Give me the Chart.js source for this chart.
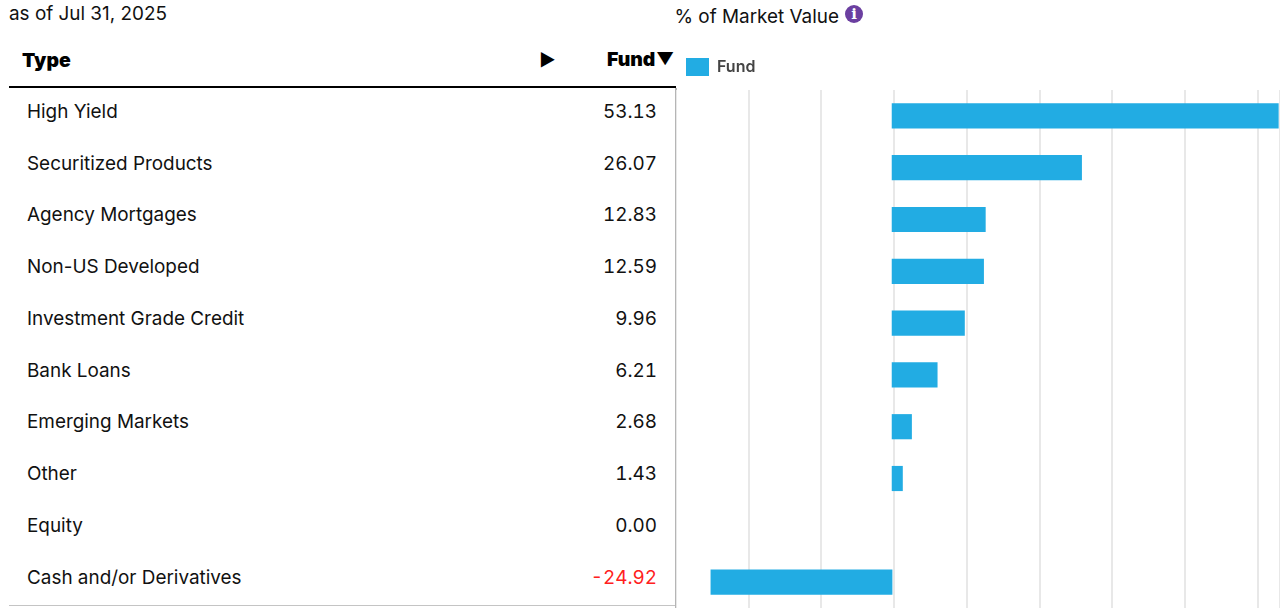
<!DOCTYPE html>
<html>
<head>
<meta charset="utf-8">
<script src="https://cdn.jsdelivr.net/npm/chart.js@4"></script>
<style>
  html, body { margin: 0; padding: 0; background: #fff; overflow: hidden; }
  body { width: 1280px; height: 608px; position: relative; font-family: Inter, sans-serif; color: #111; }
  .txt { position: absolute; white-space: nowrap; line-height: 26px; height: 26px; font-size: 18.9px; }
  .num { text-align: right; right: 623px; font-variant-numeric: tabular-nums; letter-spacing: 0; }
  .head { font-weight: 900; font-size: 19.4px; color: #000; }
  .arrow { font-size: 17px; }
  #rule { position: absolute; left: 9px; top: 86px; width: 667px; height: 2px; background: #000; }
  #side { position: absolute; left: 675px; top: 88px; width: 2px; height: 520px; background: #b5b5b5; }
  #foot { position: absolute; left: 9px; top: 605px; width: 667px; height: 1px; background: #c4c4c4; }
  #info { position: absolute; left: 845px; top: 5px; width: 18px; height: 18px; border-radius: 50%; background: #6b3fa0; color: #fff; font: bold 15px/18px "DejaVu Serif", serif; text-align: center; }
  #wrap { position: absolute; left: 676px; top: 48px; width: 604px; height: 560px; }
</style>
</head>
<body>
<div class="txt" style="left:9px;top:1px">as of Jul 31, 2025</div>
<div class="txt" style="left:674.5px;top:4px">% of Market Value</div>
<div id="info">i</div>
<div class="txt head" style="left:22px;top:47px">Type</div>
<div class="txt head arrow" style="left:539px;top:47px">▶</div>
<div class="txt head" style="left:607px;top:46px">Fund</div>
<div class="txt head arrow" style="left:656px;top:46px">▼</div>
<div id="rule"></div>
<div id="rows"></div>
<div id="foot"></div>
<div id="side"></div>
<div id="wrap"><canvas id="chart"></canvas></div>

<script>
const categories = ['High Yield', 'Securitized Products', 'Agency Mortgages', 'Non-US Developed', 'Investment Grade Credit', 'Bank Loans', 'Emerging Markets', 'Other', 'Equity', 'Cash and/or Derivatives'];
const fundValues = [53.13, 26.07, 12.83, 12.59, 9.96, 6.21, 2.68, 1.43, 0.00, -24.92];

// table on the left
const rows = document.getElementById('rows');
categories.forEach((name, i) => {
    const top = 98.8 + i * 51.75;
    const label = document.createElement('div');
    label.className = 'txt';
    label.style.left = '27px';
    label.style.top = top + 'px';
    label.textContent = name;
    rows.appendChild(label);

    const num = document.createElement('div');
    num.className = 'txt num';
    num.style.top = top + 'px';
    num.textContent = fundValues[i].toFixed(2);
    if (fundValues[i] < 0) num.style.color = '#ff2020';
    rows.appendChild(num);
});

// push the plot down a bit below the legend
const legendGap = {
    id: 'legendGap',
    beforeInit(chart) {
        const fit = chart.legend.fit;
        chart.legend.fit = function () {
            fit.call(this);
            this.height += 4;
        };
    }
};

new Chart(document.getElementById('chart').getContext('2d'), {
    type: 'bar',
    data: {
        labels: categories,
        datasets: [{
            label: 'Fund',
            data: fundValues,
            backgroundColor: ctx => ctx.raw === 0 ? 'transparent' : '#22ace3',
            borderWidth: 0,
            barThickness: 24.5
        }]
    },
    options: {
        indexAxis: 'y',
        responsive: true,
        maintainAspectRatio: false,
        animation: false,
        layout: { padding: 0 },
        scales: {
            x: {
                bounds: 'data',
                min: -29.72,
                max: 53.36,
                ticks: { display: false, stepSize: 10, includeBounds: false },
                grid: { color: '#e8e8e8', lineWidth: 2, drawTicks: false },
                border: { display: false }
            },
            y: { display: false }
        },
        plugins: {
            legend: {
                position: 'top',
                align: 'start',
                labels: {
                    boxWidth: 23,
                    boxHeight: 18,
                    padding: 10,
                    color: '#444',
                    generateLabels: chart => [{
                        text: 'Fund',
                        fillStyle: '#22ace3',
                        strokeStyle: '#22ace3',
                        lineWidth: 0,
                        fontColor: '#444',
                        datasetIndex: 0
                    }],
                    font: { family: 'Inter', size: 16, weight: '600' }
                }
            },
            tooltip: { enabled: false }
        }
    },
    plugins: [legendGap]
});
</script>
</body>
</html>
